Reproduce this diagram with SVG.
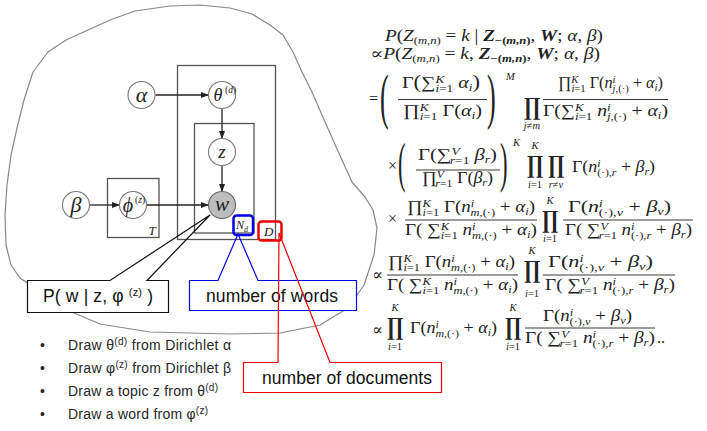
<svg xmlns="http://www.w3.org/2000/svg" width="707" height="431" viewBox="0 0 707 431">
<defs>
<marker id="ah" markerWidth="8" markerHeight="6" refX="7" refY="3" orient="auto" markerUnits="userSpaceOnUse"><path d="M0,0 L8,3 L0,6 Z" fill="#222"/></marker>
<style>
.m{font-family:"Liberation Serif","DejaVu Serif",serif;font-size:16px;fill:#222}
.it{font-style:italic}
.sm{font-size:10.5px}
.bi{font-weight:bold;font-style:italic}
.lp{font-size:18px}
.big{font-family:"DejaVu Serif",serif;font-size:24px;font-weight:bold;fill:#222;text-anchor:middle}
.lim{font-family:"Liberation Serif",serif;font-size:10.5px;fill:#222;text-anchor:middle}
.bar{stroke:#222;stroke-width:0.9}
.node circle{fill:#fff;stroke:#777;stroke-width:1.1}
.nt{font-family:"Liberation Serif",serif;font-style:italic;fill:#222;text-anchor:middle}
.plate{fill:none;stroke:#555;stroke-width:1.3}
.conn line{stroke:#222;stroke-width:1.3;marker-end:url(#ah)}
.lbl{font-family:"Liberation Sans",Arial,sans-serif;font-size:17.5px;fill:#111}
.bul{font-family:"Liberation Sans",Arial,sans-serif;font-size:14px;fill:#262626}
</style>
</defs>
<rect width="707" height="431" fill="#fff"/>

<!-- blob outline -->
<path d="M88,30 L110,20 L135,11 L170,6 L200,5 L230,8 L252,14 L270,25 L283,35 L293,52 L302,72 L312,92 L322,115 L333,140 L342,160 L352,182 L365,197 L373,210 L377,228 L374,255 L364,285 L348,308 L320,325 L280,333 L230,334 L150,332 L100,324 L67,310 L35,288 L20,278 L11,265 L6,245 L5,215 L7,185 L11,155 L17,128 L24,100 L33,72 L48,52 L66,40 Z" fill="none" stroke="#888" stroke-width="1.2" stroke-linejoin="round"/>

<!-- plates -->
<g id="plate-D"><rect class="plate" x="177.5" y="65.5" width="98" height="174"/></g>
<g id="plate-Nd"><rect class="plate" x="194.5" y="123.5" width="59.5" height="109.5"/></g>
<g id="plate-T"><rect class="plate" x="107.5" y="178.5" width="51.5" height="59"/><text class="nt" x="152" y="235" style="font-size:13px">T</text></g>

<!-- connectors -->
<g id="connectors" class="conn">
<line x1="155.5" y1="95" x2="208" y2="95"/>
<line x1="222" y1="108.5" x2="222" y2="138"/>
<line x1="222" y1="165.5" x2="222" y2="191"/>
<line x1="89.5" y1="205" x2="119" y2="205"/>
<line x1="146.5" y1="205" x2="208" y2="205"/>
</g>

<!-- nodes -->
<g id="node-alpha" class="node"><circle cx="141.5" cy="95" r="13.5"/><text class="nt" x="141.5" y="102" style="font-size:22px">α</text></g>
<g id="node-theta" class="node"><circle cx="222" cy="95" r="13.5"/><text class="nt" x="218" y="101" style="font-size:18px">θ</text><text x="225" y="93" font-family="Liberation Serif,serif" font-size="9.5" fill="#222">(<tspan font-style="italic">d</tspan>)</text></g>
<g id="node-z" class="node"><circle cx="222" cy="152" r="13.5"/><text class="nt" x="222" y="158" style="font-size:19px">z</text></g>
<g id="node-w" class="node"><circle cx="222" cy="205" r="13.5" style="fill:#bdbdbd;stroke:#666"/><text class="nt" x="222" y="211" style="font-size:21px">w</text></g>
<g id="node-beta" class="node"><circle cx="76" cy="205" r="13.5"/><text class="nt" x="76" y="212" style="font-size:22px">β</text></g>
<g id="node-phi" class="node"><circle cx="133" cy="205" r="13.5"/><text class="nt" x="128" y="212" style="font-size:20px">ϕ</text><text x="135" y="203" font-family="Liberation Serif,serif" font-size="9.5" fill="#222">(<tspan font-style="italic">z</tspan>)</text></g>

<!-- plate labels -->
<g id="label-Nd"><rect x="233.5" y="215.5" width="19.5" height="19.5" rx="3" fill="none" stroke="#0000ee" stroke-width="2.5"/><text x="236" y="229" font-family="Liberation Serif,serif" font-style="italic" font-size="12" fill="#222">N<tspan font-size="8" dy="3">d</tspan></text></g>
<g id="label-D"><rect x="258.5" y="221.5" width="23" height="19" rx="3" fill="none" stroke="#ee0000" stroke-width="2.5"/><text x="264" y="236" font-family="Liberation Serif,serif" font-style="italic" font-size="13" fill="#222">D</text></g>

<!-- callouts -->
<g id="callout-p"><rect x="27.5" y="280.5" width="141" height="32" fill="#fff"/><path d="M27.5,280.5 L110,280.5 L210,215 L147,280.5 L168.5,280.5 L168.5,312.5 L27.5,312.5 Z" fill="none" stroke="#111" stroke-width="1.2"/><text class="lbl" x="43" y="302" textLength="110">P( w | z, φ <tspan font-size="11" dy="-6">(z)</tspan><tspan dy="6"> )</tspan></text></g>
<g id="callout-words"><rect x="189.5" y="280.5" width="167" height="30" fill="#fff"/><path d="M189.5,280.5 L218,280.5 L238,234 L258,280.5 L356.5,280.5 L356.5,310.5 L189.5,310.5 Z" fill="none" stroke="#0000ee" stroke-width="1.2"/><text class="lbl" x="206" y="302" textLength="132">number of words</text></g>
<g id="callout-docs"><rect x="243.5" y="362.5" width="198" height="30" fill="#fff"/><path d="M243.5,362.5 L278,362.5 L279,233 L330,362.5 L441.5,362.5 L441.5,392.5 L243.5,392.5 Z" fill="none" stroke="#ee0000" stroke-width="1.2"/><text class="lbl" x="262" y="384" textLength="170">number of documents</text></g>

<!-- bullets -->
<g id="bullets">
<text class="bul" x="40" y="350">•</text><text class="bul" x="68" y="350" textLength="163">Draw θ<tspan font-size="10" dy="-5">(d)</tspan><tspan dy="5"> from Dirichlet α</tspan></text>
<text class="bul" x="40" y="373">•</text><text class="bul" x="68" y="373" textLength="163">Draw φ<tspan font-size="10" dy="-5">(z)</tspan><tspan dy="5"> from Dirichlet β</tspan></text>
<text class="bul" x="40" y="396">•</text><text class="bul" x="68" y="396" textLength="150">Draw a topic z from θ<tspan font-size="10" dy="-5">(d)</tspan></text>
<text class="bul" x="40" y="419">•</text><text class="bul" x="68" y="419" textLength="140">Draw a word from φ<tspan font-size="10" dy="-5">(z)</tspan></text>
</g>

<!-- equations -->
<g id="equations">
<text class="m" x="385" y="41" textLength="218" lengthAdjust="spacingAndGlyphs"><tspan class="it">P</tspan>(<tspan class="it">Z</tspan><tspan class="sm" dy="3">(<tspan class="it">m,n</tspan>)</tspan><tspan dy="-3"> = </tspan><tspan class="it">k</tspan> | <tspan class="bi">Z</tspan><tspan class="sm" font-weight="bold" dy="3">−(<tspan class="it">m,n</tspan>)</tspan><tspan dy="-3">, </tspan><tspan class="bi">W</tspan>; <tspan class="it">α</tspan>, <tspan class="it">β</tspan>)</text>
<text class="m" x="370" y="59" textLength="230" lengthAdjust="spacingAndGlyphs">∝<tspan class="it">P</tspan>(<tspan class="it">Z</tspan><tspan class="sm" dy="3">(<tspan class="it">m,n</tspan>)</tspan><tspan dy="-3"> = </tspan><tspan class="it">k</tspan>, <tspan class="bi">Z</tspan><tspan class="sm" font-weight="bold" dy="3">−(<tspan class="it">m,n</tspan>)</tspan><tspan dy="-3">, </tspan><tspan class="bi">W</tspan>; <tspan class="it">α</tspan>, <tspan class="it">β</tspan>)</text>

<!-- line 3 -->
<text class="m" x="369" y="104">=</text>
<text class="m" style="font-size:62px" transform="translate(380,117) scale(0.42,1)">(</text>
<text class="m" x="402" y="88" textLength="78" lengthAdjust="spacingAndGlyphs">Γ<tspan class="lp">(</tspan>∑<tspan class="sm it" dy="-5">K</tspan><tspan class="sm" dx="-7" dy="9"><tspan class="it">i</tspan>=1</tspan><tspan class="it" dy="-4"> α</tspan><tspan class="sm it" dy="3">i</tspan><tspan class="lp" dy="-3">)</tspan></text>
<line class="bar" x1="398" y1="99.5" x2="487" y2="99.5"/>
<text class="m" x="403" y="116" textLength="79" lengthAdjust="spacingAndGlyphs">∏<tspan class="sm it" dy="-5">K</tspan><tspan class="sm" dx="-7" dy="9"><tspan class="it">i</tspan>=1</tspan><tspan dy="-4"> Γ(</tspan><tspan class="it">α</tspan><tspan class="sm it" dy="3">i</tspan><tspan dy="-3">)</tspan></text>
<text class="m" style="font-size:62px" transform="translate(487,117) scale(0.42,1)">)</text>
<text class="m it" x="506" y="80" style="font-size:10.5px">M</text>
<text class="big" x="532" y="114.5" textLength="16" lengthAdjust="spacingAndGlyphs">∏</text>
<text class="lim" x="532" y="129"><tspan font-style="italic">j</tspan>≠<tspan font-style="italic">m</tspan></text>
<text class="m" x="558" y="88" textLength="105" lengthAdjust="spacingAndGlyphs">∏<tspan class="sm it" dy="-5">K</tspan><tspan class="sm" dx="-7" dy="9"><tspan class="it">i</tspan>=1</tspan><tspan dy="-4"> Γ(</tspan><tspan class="it">n</tspan><tspan class="sm it" dy="-5">i</tspan><tspan class="sm" dx="-3" dy="9"><tspan class="it">j</tspan>,(·)</tspan><tspan dy="-4"> + </tspan><tspan class="it">α</tspan><tspan class="sm it" dy="3">i</tspan><tspan dy="-3">)</tspan></text>
<line class="bar" x1="543" y1="99.5" x2="668" y2="99.5"/>
<text class="m" x="543" y="116" textLength="125" lengthAdjust="spacingAndGlyphs">Γ(∑<tspan class="sm it" dy="-5">K</tspan><tspan class="sm" dx="-7" dy="9"><tspan class="it">i</tspan>=1</tspan><tspan class="it" dy="-4"> n</tspan><tspan class="sm it" dy="-5">i</tspan><tspan class="sm" dx="-3" dy="9"><tspan class="it">j</tspan>,(·)</tspan><tspan dy="-4"> + </tspan><tspan class="it">α</tspan><tspan class="sm it" dy="3">i</tspan><tspan dy="-3">)</tspan></text>

<!-- line 4 -->
<text class="m" x="388" y="171">×</text>
<text class="m" style="font-size:54px" transform="translate(398,181) scale(0.42,1)">(</text>
<text class="m" x="418" y="160" textLength="79" lengthAdjust="spacingAndGlyphs">Γ(∑<tspan class="sm it" dy="-5">V</tspan><tspan class="sm" dx="-7" dy="9"><tspan class="it">r</tspan>=1</tspan><tspan class="it" dy="-4"> β</tspan><tspan class="sm it" dy="3">r</tspan><tspan dy="-3">)</tspan></text>
<line class="bar" x1="416" y1="170" x2="500" y2="170"/>
<text class="m" x="422" y="183" textLength="71" lengthAdjust="spacingAndGlyphs">∏<tspan class="sm it" dy="-5">V</tspan><tspan class="sm" dx="-7" dy="9"><tspan class="it">r</tspan>=1</tspan><tspan dy="-4"> Γ(</tspan><tspan class="it">β</tspan><tspan class="sm it" dy="3">r</tspan><tspan dy="-3">)</tspan></text>
<text class="m" style="font-size:54px" transform="translate(500,181) scale(0.42,1)">)</text>
<text class="m it" x="513" y="146" style="font-size:10.5px">K</text>
<text class="lim" x="535" y="149" font-style="italic">K</text>
<text class="big" x="535" y="172.5" textLength="16" lengthAdjust="spacingAndGlyphs">∏</text>
<text class="lim" x="535" y="188"><tspan font-style="italic">i</tspan>=1</text>
<text class="big" x="556" y="172.5" textLength="16" lengthAdjust="spacingAndGlyphs">∏</text>
<text class="lim" x="556" y="188"><tspan font-style="italic">r</tspan>≠<tspan font-style="italic">v</tspan></text>
<text class="m" x="572" y="172" textLength="83" lengthAdjust="spacingAndGlyphs">Γ(<tspan class="it">n</tspan><tspan class="sm it" dy="-5">i</tspan><tspan class="sm" dx="-3" dy="9">(·),<tspan class="it">r</tspan></tspan><tspan dy="-4"> + </tspan><tspan class="it">β</tspan><tspan class="sm it" dy="3">r</tspan><tspan dy="-3">)</tspan></text>

<!-- line 5 -->
<text class="m" x="388" y="224">×</text>
<text class="m" x="407" y="212" textLength="128" lengthAdjust="spacingAndGlyphs">∏<tspan class="sm it" dy="-5">K</tspan><tspan class="sm" dx="-7" dy="9"><tspan class="it">i</tspan>=1</tspan><tspan dy="-4"> Γ(</tspan><tspan class="it">n</tspan><tspan class="sm it" dy="-5">i</tspan><tspan class="sm" dx="-3" dy="9"><tspan class="it">m</tspan>,(·)</tspan><tspan dy="-4"> + </tspan><tspan class="it">α</tspan><tspan class="sm it" dy="3">i</tspan><tspan dy="-3">)</tspan></text>
<line class="bar" x1="405" y1="220" x2="537" y2="220"/>
<text class="m" x="405" y="235" textLength="132" lengthAdjust="spacingAndGlyphs">Γ( ∑<tspan class="sm it" dy="-5">K</tspan><tspan class="sm" dx="-7" dy="9"><tspan class="it">i</tspan>=1</tspan><tspan class="it" dy="-4"> n</tspan><tspan class="sm it" dy="-5">i</tspan><tspan class="sm" dx="-3" dy="9"><tspan class="it">m</tspan>,(·)</tspan><tspan dy="-4"> + </tspan><tspan class="it">α</tspan><tspan class="sm it" dy="3">i</tspan><tspan dy="-3">)</tspan></text>
<text class="lim" x="550" y="204" font-style="italic">K</text>
<text class="big" x="550" y="227.5" textLength="16" lengthAdjust="spacingAndGlyphs">∏</text>
<text class="lim" x="550" y="242"><tspan font-style="italic">i</tspan>=1</text>
<text class="m" x="568" y="212" textLength="103" lengthAdjust="spacingAndGlyphs">Γ(<tspan class="it">n</tspan><tspan class="sm it" dy="-5">i</tspan><tspan class="sm" dx="-3" dy="9">(·),<tspan class="it">v</tspan></tspan><tspan dy="-4"> + </tspan><tspan class="it">β</tspan><tspan class="sm it" dy="3">v</tspan><tspan dy="-3">)</tspan></text>
<line class="bar" x1="563" y1="220" x2="693" y2="220"/>
<text class="m" x="565" y="235" textLength="127" lengthAdjust="spacingAndGlyphs">Γ( ∑<tspan class="sm it" dy="-5">V</tspan><tspan class="sm" dx="-7" dy="9"><tspan class="it">r</tspan>=1</tspan><tspan class="it" dy="-4"> n</tspan><tspan class="sm it" dy="-5">i</tspan><tspan class="sm" dx="-3" dy="9">(·),<tspan class="it">r</tspan></tspan><tspan dy="-4"> + </tspan><tspan class="it">β</tspan><tspan class="sm it" dy="3">r</tspan><tspan dy="-3">)</tspan></text>

<!-- line 6 -->
<text class="m" x="372" y="280">∝</text>
<text class="m" x="388" y="267" textLength="127" lengthAdjust="spacingAndGlyphs">∏<tspan class="sm it" dy="-5">K</tspan><tspan class="sm" dx="-7" dy="9"><tspan class="it">i</tspan>=1</tspan><tspan dy="-4"> Γ(</tspan><tspan class="it">n</tspan><tspan class="sm it" dy="-5">i</tspan><tspan class="sm" dx="-3" dy="9"><tspan class="it">m</tspan>,(·)</tspan><tspan dy="-4"> + </tspan><tspan class="it">α</tspan><tspan class="sm it" dy="3">i</tspan><tspan dy="-3">)</tspan></text>
<line class="bar" x1="387" y1="275" x2="518" y2="275"/>
<text class="m" x="387" y="290" textLength="131" lengthAdjust="spacingAndGlyphs">Γ( ∑<tspan class="sm it" dy="-5">K</tspan><tspan class="sm" dx="-7" dy="9"><tspan class="it">i</tspan>=1</tspan><tspan class="it" dy="-4"> n</tspan><tspan class="sm it" dy="-5">i</tspan><tspan class="sm" dx="-3" dy="9"><tspan class="it">m</tspan>,(·)</tspan><tspan dy="-4"> + </tspan><tspan class="it">α</tspan><tspan class="sm it" dy="3">i</tspan><tspan dy="-3">)</tspan></text>
<text class="lim" x="532" y="254" font-style="italic">K</text>
<text class="big" x="532" y="277.5" textLength="16" lengthAdjust="spacingAndGlyphs">∏</text>
<text class="lim" x="532" y="297"><tspan font-style="italic">i</tspan>=1</text>
<text class="m" x="548" y="267" textLength="105" lengthAdjust="spacingAndGlyphs">Γ(<tspan class="it">n</tspan><tspan class="sm it" dy="-5">i</tspan><tspan class="sm" dx="-3" dy="9">(·),<tspan class="it">v</tspan></tspan><tspan dy="-4"> + </tspan><tspan class="it">β</tspan><tspan class="sm it" dy="3">v</tspan><tspan dy="-3">)</tspan></text>
<line class="bar" x1="543" y1="275" x2="675" y2="275"/>
<text class="m" x="545" y="290" textLength="130" lengthAdjust="spacingAndGlyphs">Γ( ∑<tspan class="sm it" dy="-5">V</tspan><tspan class="sm" dx="-7" dy="9"><tspan class="it">r</tspan>=1</tspan><tspan class="it" dy="-4"> n</tspan><tspan class="sm it" dy="-5">i</tspan><tspan class="sm" dx="-3" dy="9">(·),<tspan class="it">r</tspan></tspan><tspan dy="-4"> + </tspan><tspan class="it">β</tspan><tspan class="sm it" dy="3">r</tspan><tspan dy="-3">)</tspan></text>

<!-- line 7 -->
<text class="m" x="372" y="335">∝</text>
<text class="lim" x="395" y="311" font-style="italic">K</text>
<text class="big" x="395" y="334.5" textLength="16" lengthAdjust="spacingAndGlyphs">∏</text>
<text class="lim" x="395" y="350"><tspan font-style="italic">i</tspan>=1</text>
<text class="m" x="410" y="333" textLength="87" lengthAdjust="spacingAndGlyphs">Γ(<tspan class="it">n</tspan><tspan class="sm it" dy="-5">i</tspan><tspan class="sm" dx="-3" dy="9"><tspan class="it">m</tspan>,(·)</tspan><tspan dy="-4"> + </tspan><tspan class="it">α</tspan><tspan class="sm it" dy="3">i</tspan><tspan dy="-3">)</tspan></text>
<text class="lim" x="513" y="311" font-style="italic">K</text>
<text class="big" x="513" y="334.5" textLength="16" lengthAdjust="spacingAndGlyphs">∏</text>
<text class="lim" x="513" y="350"><tspan font-style="italic">i</tspan>=1</text>
<text class="m" x="543" y="321" textLength="89" lengthAdjust="spacingAndGlyphs">Γ(<tspan class="it">n</tspan><tspan class="sm it" dy="-5">i</tspan><tspan class="sm" dx="-3" dy="9">(·),<tspan class="it">v</tspan></tspan><tspan dy="-4"> + </tspan><tspan class="it">β</tspan><tspan class="sm it" dy="3">v</tspan><tspan dy="-3">)</tspan></text>
<line class="bar" x1="525" y1="328" x2="655" y2="328"/>
<text class="m" x="525" y="343" textLength="130" lengthAdjust="spacingAndGlyphs">Γ( ∑<tspan class="sm it" dy="-5">V</tspan><tspan class="sm" dx="-7" dy="9"><tspan class="it">r</tspan>=1</tspan><tspan class="it" dy="-4"> n</tspan><tspan class="sm it" dy="-5">i</tspan><tspan class="sm" dx="-3" dy="9">(·),<tspan class="it">r</tspan></tspan><tspan dy="-4"> + </tspan><tspan class="it">β</tspan><tspan class="sm it" dy="3">r</tspan><tspan dy="-3">)</tspan></text>
<text class="m" x="657" y="343">..</text>
</g>
</svg>
